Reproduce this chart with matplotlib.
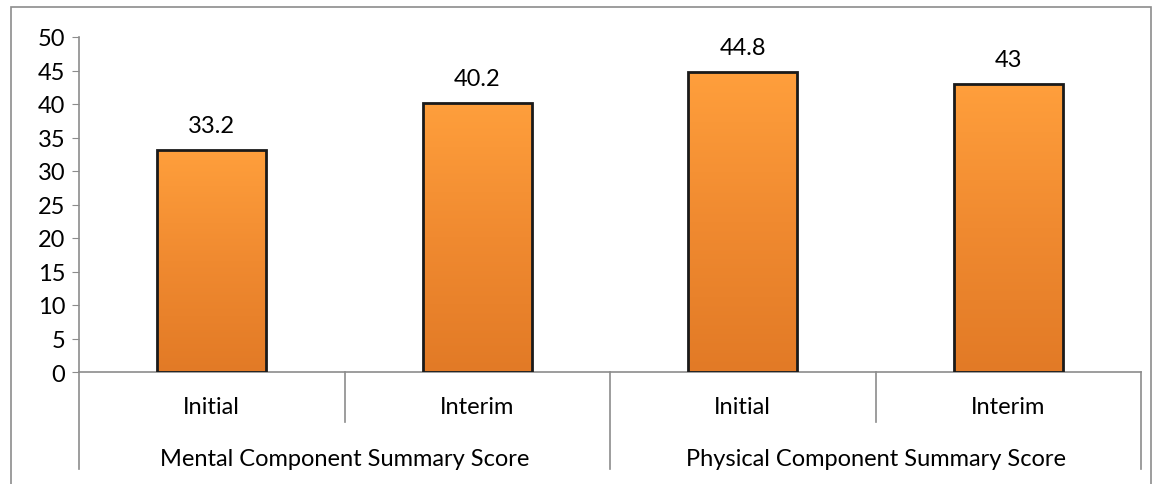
import matplotlib.pyplot as plt
import numpy as np
from matplotlib.colors import LinearSegmentedColormap
from matplotlib.patches import Rectangle

groups = ['Mental Component Summary Score', 'Physical Component Summary Score']
phases = ['Initial', 'Interim']
values = [33.2, 40.2, 44.8, 43]
value_labels = ['33.2', '40.2', '44.8', '43']

plt.rcParams['font.family'] = ['Lato', 'DejaVu Sans']
W, H = 1157, 485
fig = plt.figure(figsize=(W / 100, H / 100), dpi=100)
ax = fig.add_axes([79 / W, 1 - 373 / H, (1141 - 79) / W, (373 - 38) / H])

# outer chart frame
fig.patches.append(Rectangle((11 / W, -0.1), (1151 - 11) / W, 1.1 - 8 / H,
                             transform=fig.transFigure, fill=False,
                             edgecolor='#8c8c8c', lw=1.2))

x = np.arange(len(values))
cmap = LinearSegmentedColormap.from_list('orng', ['#e27a26', '#f08a30', '#ff9f3c'])
bars = ax.bar(x, values, width=0.41, facecolor='none', edgecolor='#1a1a1a',
              lw=2, zorder=3)
grad = np.linspace(0, 1, 256).reshape(-1, 1)
for b in bars:
    im = ax.imshow(grad, cmap=cmap, origin='lower', aspect='auto',
                   extent=[b.get_x(), b.get_x() + b.get_width(), 0, b.get_height()],
                   zorder=2)
    im.set_clip_path(b)
for xi, v, lab in zip(x, values, value_labels):
    ax.annotate(lab, (xi, v), xytext=(0, 10), textcoords='offset points',
                ha='center', va='bottom', fontsize=17)

ax.set_xlim(-0.5, len(values) - 0.5)
ax.set_ylim(0, 50)
ax.set_yticks(range(0, 51, 5))
ax.tick_params(axis='y', labelsize=17, length=5, color='#8c8c8c', pad=5)
ax.set_xticks([])
for s in ['top', 'right']:
    ax.spines[s].set_visible(False)
for s in ['left', 'bottom']:
    ax.spines[s].set_color('#8c8c8c')
    ax.spines[s].set_linewidth(1.2)

# hierarchical category axis
trans = ax.get_xaxis_transform()
ph = 50 / (373 - 38)
gh = 97 / (373 - 38)
for i, xi in enumerate(x):
    ax.text(xi, -35 / (373 - 38), phases[i % 2], transform=trans, ha='center',
            va='center', fontsize=17)
for xb in [0.5, 2.5]:
    ax.plot([xb, xb], [0, -ph], transform=trans, color='#8c8c8c', lw=1.2, clip_on=False)
for xb in [-0.5, 1.5, 3.5]:
    ax.plot([xb, xb], [0, -gh], transform=trans, color='#8c8c8c', lw=1.2, clip_on=False)
for g, lab in enumerate(groups):
    ax.text(2 * g + 0.5, -87 / (373 - 38), lab, transform=trans, ha='center',
            va='center', fontsize=17)

fig.savefig('out.png', dpi=100)
